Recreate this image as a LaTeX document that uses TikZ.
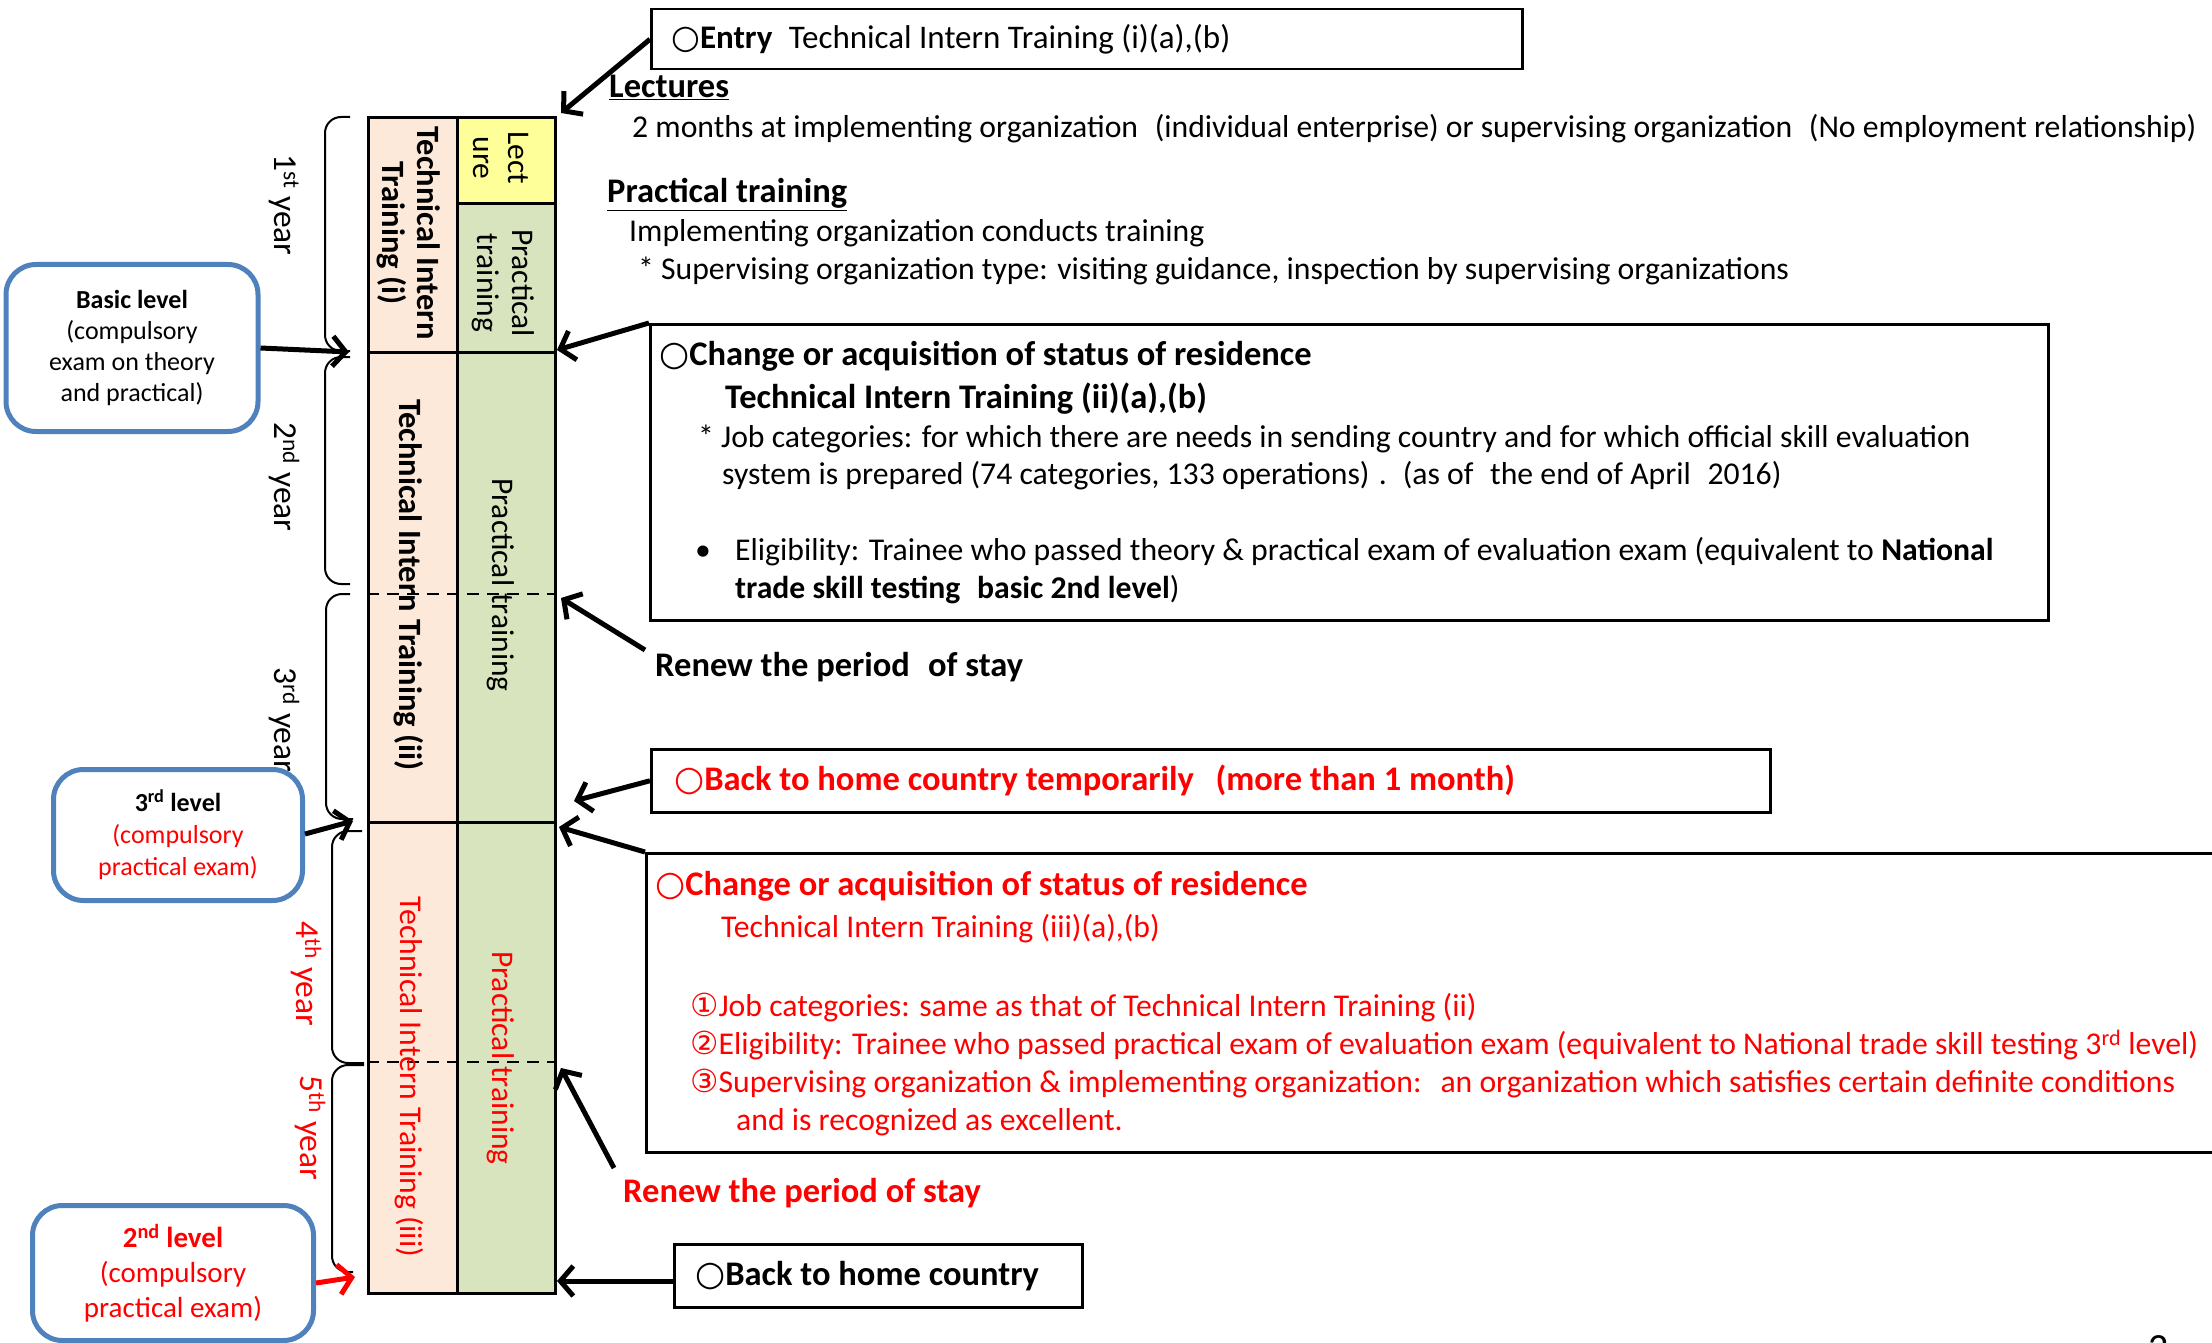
\documentclass[tikz,border=0pt]{standalone}
\usepackage{fontspec}
\setmainfont{Carlito}
\newfontfamily\symf{DejaVu Sans}
\usetikzlibrary{arrows.meta}
\definecolor{pinkc}{HTML}{FDE9D9}
\definecolor{yelc}{HTML}{FFFF99}
\definecolor{grnc}{HTML}{D7E4BD}
\definecolor{bluc}{HTML}{4F81BD}
\definecolor{redc}{HTML}{FF0000}
\newcommand{\wcirc}{{\symf ○}}
\tikzset{
  cell/.style={draw=black, line width=3pt, inner sep=0pt, anchor=north west},
  frame/.style={draw=black, line width=2.5pt, inner sep=0pt, anchor=north west},
  txt/.style={anchor=west, inner sep=0pt, text height=0.75em, text depth=0.22em, font=\fontsize{31.7}{38}\selectfont},
  btxt/.style={txt, font=\fontsize{34.5}{40}\selectfont\bfseries},
  vtxt/.style={rotate=-90, align=center, inner sep=0pt, font=\fontsize{31.5}{35}\selectfont},
  ytxt/.style={rotate=-90, inner sep=0pt, font=\fontsize{33.5}{38}\selectfont},
  lvl/.style={draw=bluc, line width=5pt, rounded corners=30pt, align=center, inner sep=0pt},
  arr/.style={line width=5pt, -{Straight Barb[length=13pt,width=30pt]}},
  brace/.style={line width=2pt, rounded corners=16pt},
}
\begin{document}
\begin{tikzpicture}[x=1pt,y=-1pt]
\useasboundingbox (0,0) rectangle (2212,1343);
\fill[white] (0,0) rectangle (2212,1343);

% ---- column ----
\node[cell, fill=pinkc, minimum width=89, minimum height=235] (p1) at (367,116) {};
\node[cell, fill=yelc, minimum width=98, minimum height=86] (y1) at (456,116) {};
\node[cell, fill=grnc, minimum width=98, minimum height=149] (g1) at (456,202) {};
\node[cell, fill=pinkc, minimum width=89, minimum height=470] (p2) at (367,351) {};
\node[cell, fill=grnc, minimum width=98, minimum height=470] (g2) at (456,351) {};
\node[cell, fill=pinkc, minimum width=89, minimum height=471] (p3) at (367,821) {};
\node[cell, fill=grnc, minimum width=98, minimum height=471] (g3) at (456,821) {};
\draw[line width=2pt, dashed, dash pattern=on 12pt off 8pt] (p2.west |- 0,594) -- (g2.east |- 0,594);
\draw[line width=2pt, dashed, dash pattern=on 12pt off 8pt] (p3.west |- 0,1062) -- (g3.east |- 0,1062);

\node[vtxt, font=\fontsize{32.5}{35}\selectfont\bfseries] (t1) at (409,233) {Technical Intern\\Training (i)};
\node[vtxt] (t1a) at (501,158) {Lect\\ure};
\node[vtxt] (t1b) at (503,283) {Practical\\training};
\node[vtxt, font=\fontsize{32.5}{35}\selectfont\bfseries] (t2) at (409,585) {Technical Intern Training (ii)};
\node[vtxt] (t2b) at (501,585) {Practical training};
\node[vtxt, text=redc, font=\fontsize{31.7}{35}\selectfont] (t3) at (409,1077) {Technical Intern Training (iii)};
\node[vtxt, text=redc] (t3b) at (501,1058) {Practical training};

% ---- braces ----
\draw[brace] (350,117) -- (325,117) -- (325,351) -- (350,351);
\draw[brace] (350,357) -- (325,357) -- (325,584) -- (350,584);
\draw[brace] (350,594) -- (326,594) -- (326,819) -- (353,819);
\draw[brace] (362,831) -- (332,831) -- (332,1063) -- (364,1063);
\draw[brace] (364,1065) -- (332,1065) -- (332,1272) -- (353,1272);

\node[ytxt] (y1l) at (284,205) {1\textsuperscript{st} year};
\node[ytxt] (y2l) at (284,477) {2\textsuperscript{nd} year};
\node[ytxt] (y3l) at (284,720) {3\textsuperscript{rd} year};
\node[ytxt, text=redc] (y4l) at (306,974) {4\textsuperscript{th} year};
\node[ytxt, text=redc] (y5l) at (310,1128) {5\textsuperscript{th} year};

% ---- level boxes ----
\node[lvl, fill=white, minimum width=252, minimum height=167, font=\fontsize{26}{31}\selectfont] (basic) at (132,348) {\textbf{Basic level}\\(compulsory\\exam on theory\\and practical)};
\node[lvl, fill=white, minimum width=249, minimum height=131, font=\fontsize{26}{32}\selectfont] (lv3) at (178,835) {\textbf{3\textsuperscript{rd} level}\\\textcolor{redc}{(compulsory}\\\textcolor{redc}{practical exam)}};
\node[lvl, fill=white, minimum width=281, minimum height=135, font=\fontsize{29}{35}\selectfont, text=redc] (lv2) at (173,1273) {\textbf{2\textsuperscript{nd} level}\\(compulsory\\practical exam)};

\coordinate (a1) at (349,352);
\coordinate (a2) at (353,821);
\coordinate (a3) at (355,1277);
\draw[arr] (basic.east) -- (a1);
\draw[arr] (lv3.east |- 0,834) -- (a2);
\draw[arr, redc] (lv2.east |- 0,1283) -- (a3);

% ---- right side ----
\node[frame, minimum width=871, minimum height=60] (entry) at (650,8) {};
\node[txt, font=\fontsize{33}{38}\selectfont] (entryT) at (671,46) {\wcirc\textbf{Entry}\hspace{0.5em}Technical Intern Training (i)(a),(b)};

\node[btxt] (lect) at (609,95) {\underline{Lectures}};
\node[txt] (lect1) at (632,135) {2 months at implementing organization\hspace{0.3em} (individual enterprise) or supervising organization\hspace{0.3em} (No employment relationship)};
\node[btxt] (prac) at (607,200) {\underline{Practical training}};
\node[txt] (prac1) at (629,239) {Implementing organization conducts training};
\node[txt] (prac2) at (638,277) {* Supervising organization type: visiting guidance, inspection by supervising organizations};

\node[frame, minimum width=1398, minimum height=296] (chg1) at (649,323) {};
\node[btxt] (c1a) at (659,363) {\wcirc Change or acquisition of status of residence};
\node[btxt] (c1b) at (725,406) {Technical Intern Training (ii)(a),(b)};
\node[txt] (c1c) at (698,445) {* Job categories: for which there are needs in sending country and for which official skill evaluation};
\node[txt] (c1d) at (722,482) {system is prepared (74 categories, 133 operations)\hspace{0.3em}.\hspace{0.5em}(as of\hspace{0.3em} the end of April\hspace{0.3em} 2016)};
\node[txt] (c1e) at (695,558) {•};
\node[txt] (c1f) at (735,558) {Eligibility: Trainee who passed theory \& practical exam of evaluation exam (equivalent to \textbf{National}};
\node[txt] (c1g) at (735,596) {\textbf{trade skill testing\hspace{0.3em} basic 2nd level})};

\node[btxt] (renew1) at (655,674) {Renew the period\hspace{0.3em} of stay};

\node[frame, minimum width=1119, minimum height=63] (back1) at (650,748) {};
\node[btxt, text=redc] (back1T) at (674,788) {\wcirc Back to home country temporarily\hspace{0.4em} (more than 1 month)};

\node[frame, minimum width=1580, minimum height=299] (chg2) at (645,852) {};
\node[btxt, text=redc] (c2a) at (655,893) {\wcirc Change or acquisition of status of residence};
\node[txt, text=redc] (c2b) at (721,935) {Technical Intern Training (iii)(a),(b)};
\node[txt, text=redc] (c2c) at (690,1014) {{\symf ①}Job categories: same as that of Technical Intern Training (ii)};
\node[txt, text=redc] (c2d) at (690,1052) {{\symf ②}Eligibility: Trainee who passed practical exam of evaluation exam (equivalent to National trade skill testing 3\textsuperscript{rd} level)};
\node[txt, text=redc] (c2e) at (690,1090) {{\symf ③}Supervising organization \& implementing organization:\hspace{0.3em} an organization which satisfies certain definite conditions};
\node[txt, text=redc] (c2f) at (736,1128) {and is recognized as excellent.};

\node[btxt, text=redc] (renew2) at (623,1200) {Renew the period of stay};

\node[frame, minimum width=408, minimum height=63] (back2) at (673,1243) {};
\node[btxt] (back2T) at (695,1283) {\wcirc Back to home country};

\node[anchor=north, inner sep=0pt, font=\fontsize{40}{40}\selectfont] (pg) at (2159,1335) {2};

% ---- arrows to the column ----
\coordinate (e1) at (561,113);
\coordinate (e2) at (557,350);
\coordinate (e3) at (561,598);
\coordinate (e4) at (574,801);
\coordinate (e5) at (559,827);
\coordinate (e6) at (561,1068);
\coordinate (e7) at (557,1281);
\coordinate (s3) at (645,650);
\coordinate (s6) at (614,1168);
\draw[arr] (entry.west) -- (e1);
\draw[arr] (chg1.north west) -- (e2);
\draw[arr] (s3) -- (e3);
\draw[arr] (back1.west) -- (e4);
\draw[arr] (chg2.north west) -- (e5);
\draw[arr] (s6) -- (e6);
\draw[arr] (back2.west |- 0,1281) -- (e7);
\end{tikzpicture}
\end{document}
